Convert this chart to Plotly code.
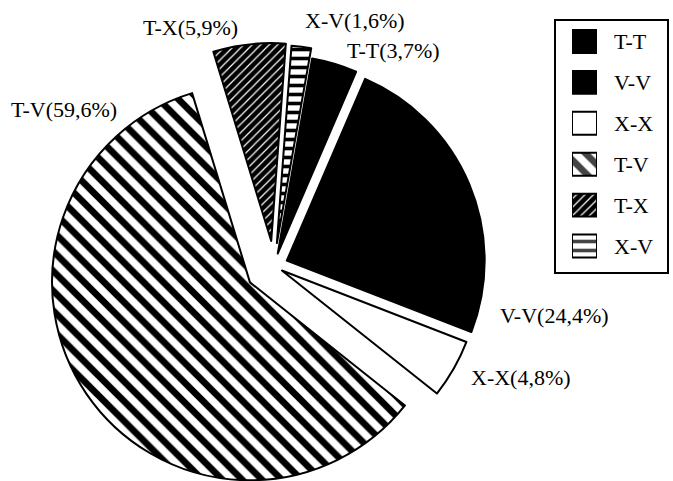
import plotly.graph_objects as go

# Share of each pair type (%)
categories = ["T-T", "V-V", "X-X", "T-V", "T-X", "X-V"]
shares = [3.7, 24.4, 4.8, 59.6, 5.9, 1.6]

# How far each wedge is pulled out of the pie (fraction of radius)
pulls = [0.066, 0.07, 0.046, 0.147, 0.127, 0.117]

# Fill style per category: base colour, hatch colour, hatch shape, size, solidity
fills = {
    "T-T": ("black", "white", "", 8, 0.3),
    "V-V": ("black", "white", "", 8, 0.3),
    "X-X": ("white", "black", "", 8, 0.3),
    "T-V": ("white", "black", "\\", 14, 0.48),
    "T-X": ("black", "white", "/", 6, 0.2),
    "X-V": ("white", "black", "-", 9, 0.4),
}
bg = [fills[c][0] for c in categories]
fg = [fills[c][1] for c in categories]
shape = [fills[c][2] for c in categories]
psize = [fills[c][3] for c in categories]
solid = [fills[c][4] for c in categories]

serif = "Liberation Serif, Times New Roman, serif"
W, H = 673, 493


def px(x, y):
    return x / W, 1 - y / H


def hatch():
    return dict(shape=shape, fgcolor=fg, bgcolor=bg, size=psize,
                solidity=solid, fillmode="overlay", fgopacity=1)


fig = go.Figure()

fig.add_trace(go.Pie(
    labels=categories,
    values=shares,
    sort=False,
    direction="clockwise",
    rotation=10,
    pull=pulls,
    textinfo="none",
    hoverinfo="label+percent",
    showlegend=False,
    marker=dict(colors=bg, line=dict(color="black", width=2), pattern=hatch()),
    domain=dict(x=[47 / W, 501 / W], y=[0, 454 / H]),
))

# Key swatches: one equal-length bar per category on a small inset axis
swatch_len = [1] * len(categories)
fig.add_trace(go.Bar(
    x=swatch_len,
    y=categories,
    base=0,
    orientation="h",
    width=0.56,
    xaxis="x2",
    yaxis="y2",
    showlegend=False,
    hoverinfo="skip",
    marker=dict(color=bg, line=dict(color="black", width=2), pattern=hatch()),
))

# Wedge labels "name(value%)" with a decimal comma
label_pos = {
    "T-T": (393, 50),
    "V-V": (554, 315),
    "X-X": (521, 377),
    "T-V": (64, 109),
    "T-X": (190, 28),
    "X-V": (355, 20),
}
annotations = []
for c, v in zip(categories, shares):
    x, y = px(*label_pos[c])
    annotations.append(dict(
        text=f"{c}({v:.1f}%)".replace(".", ","),
        x=x, y=y, xref="paper", yref="paper",
        xanchor="center", yanchor="middle", showarrow=False,
        font=dict(family=serif, size=22, color="black"),
    ))

# Key texts next to the swatches
for c in categories:
    annotations.append(dict(
        text=c, x=612 / W, y=c, xref="paper", yref="y2",
        xanchor="left", yanchor="middle", showarrow=False,
        font=dict(family=serif, size=22, color="black"),
    ))

bx0, by0 = px(555, 273)
bx1, by1 = px(668, 20)

fig.update_layout(
    width=W,
    height=H,
    margin=dict(l=0, r=0, t=0, b=0),
    paper_bgcolor="white",
    plot_bgcolor="white",
    showlegend=False,
    annotations=annotations,
    shapes=[dict(type="rect", xref="paper", yref="paper",
                 x0=bx0, x1=bx1, y0=by0, y1=by1,
                 line=dict(color="black", width=2), fillcolor="rgba(0,0,0,0)")],
    xaxis2=dict(domain=[572 / W, 597 / W], range=[0, 1], visible=False,
                anchor="y2", fixedrange=True),
    yaxis2=dict(domain=[1 - 266.5 / H, 1 - 21 / H], range=[5.5, -0.5],
                type="category", visible=False, anchor="x2", fixedrange=True),
)

fig.write_html("out.html")
